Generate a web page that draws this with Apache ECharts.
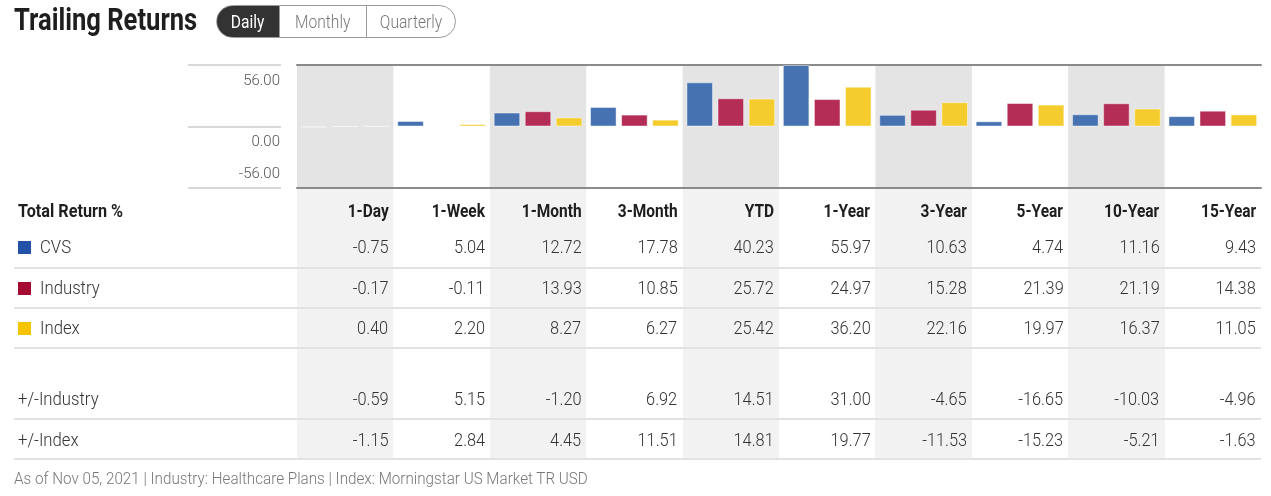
<!DOCTYPE html>
<html>
<head>
<meta charset="utf-8">
<script src="https://cdn.jsdelivr.net/npm/echarts@6/dist/echarts.min.js"></script>
<style>
  html, body { margin:0; padding:0; background:#fff; }
  #wrap { position:relative; width:1271px; height:496px; overflow:hidden; font-family:"Roboto",sans-serif; }
  #chart { position:absolute; left:0; top:0; width:1271px; height:496px; }
  #overlay { position:absolute; left:0; top:0; width:1271px; height:496px; pointer-events:none; }
  .abs { position:absolute; white-space:nowrap; }
  .sx { display:inline-block; }
  .title { left:14px; top:1px; font-size:31px; font-weight:bold; color:#1e1e1e; line-height:38px; }
  .pill { left:216px; top:5px; width:240px; height:33px; border:1px solid #9a9a9a; border-radius:17px; overflow:hidden; box-sizing:border-box; }
  .seg { position:absolute; top:0; height:31px; line-height:31px; text-align:center; font-size:19px; color:#777; box-sizing:border-box; font-weight:300; }
  .cell { line-height:40px; height:40px; font-size:19px; color:#333; font-weight:300; }
  .hdr { font-weight:bold; font-size:18px; color:#1e1e1e; }
  .band { background:#f2f2f2; }
  .sep { height:2px; background:#e2e2e2; }
  .sq { width:13px; height:13px; }
  .foot { left:14px; font-size:17px; color:#777; line-height:24px; font-weight:300; }
</style>
</head>
<body>
<div id="wrap">
  <div id="chart"></div>
  <div id="overlay"></div>
</div>
<script>
// ---- data ----
const periods = ['1-Day','1-Week','1-Month','3-Month','YTD','1-Year','3-Year','5-Year','10-Year','15-Year'];
const cvs      = [-0.75, 5.04, 12.72, 17.78, 40.23, 55.97, 10.63, 4.74, 11.16, 9.43];
const industry = [-0.17, -0.11, 13.93, 10.85, 25.72, 24.97, 15.28, 21.39, 21.19, 14.38];
const indexRet = [0.40, 2.20, 8.27, 6.27, 25.42, 36.20, 22.16, 19.97, 16.37, 11.05];
const plusMinusIndustry = [-0.59, 5.15, -1.20, 6.92, 14.51, 31.00, -4.65, -16.65, -10.03, -4.96];
const plusMinusIndex    = [-1.15, 2.84, 4.45, 11.51, 14.81, 19.77, -11.53, -15.23, -5.21, -1.63];
const yTickLabels = ['-56.00', '0.00', '56.00'];
const seriesNames = ['CVS', 'Industry', 'Index'];
const toggles = ['Daily', 'Monthly', 'Quarterly'];
const footnote = 'As of Nov 05, 2021 | Industry: Healthcare Plans | Index: Morningstar US Market TR USD';
const tableTitle = 'Total Return %';

// ---- styles ----
const barColors = ['#4672b1', '#b32d57', '#f5cc2e'];
const legendColors = ['#2152a8', '#a50a32', '#f5c400'];
const GRID_L = 297, GRID_R = 1261, GRID_T = 65, GRID_B = 188;
const SX = 0.86; // horizontal condensing of text

const chart = echarts.init(document.getElementById('chart'), null, { renderer: 'canvas' });
const axisLineStyle = { show: true, onZero: false, lineStyle: { color: '#8a8a8a', width: 2 } };
const labelFont = { color: '#555', fontSize: 15, fontFamily: 'Roboto', fontWeight: 300 };
chart.setOption({
  animation: false,
  grid: { left: GRID_L, right: 1271 - GRID_R, top: GRID_T, bottom: 496 - GRID_B, containLabel: false },
  xAxis: [
    { type: 'category', data: periods, position: 'bottom', boundaryGap: true,
      axisLine: axisLineStyle, axisTick: { show: false }, axisLabel: { show: false },
      splitArea: { show: true, areaStyle: { color: ['#e4e4e4', 'rgba(255,255,255,0)'] } },
      splitLine: { show: false } },
    { type: 'category', data: periods, position: 'top', boundaryGap: true,
      axisLine: axisLineStyle, axisTick: { show: false }, axisLabel: { show: false } }
  ],
  yAxis: {
    type: 'value', min: -56, max: 56, interval: 56, offset: 16,
    axisLine: { show: false },
    axisTick: { show: true, inside: false, length: 93, lineStyle: { color: '#d8d8d8', width: 2 } },
    splitLine: { show: false },
    axisLabel: Object.assign({
      margin: 1,
      formatter: function (v, i) {
        const key = i === 0 ? 'b' : (i === 1 ? 'z' : 't');
        return '{' + key + '|' + yTickLabels[i] + '}';
      },
      rich: {
        t: Object.assign({ padding: [32, 0, 0, 0] }, labelFont),
        z: Object.assign({ padding: [32, 0, 0, 0] }, labelFont),
        b: Object.assign({ padding: [0, 0, 28, 0] }, labelFont)
      }
    }, labelFont)
  },
  series: [cvs, industry, indexRet].map((d, k) => ({
    name: seriesNames[k], type: 'bar', data: d,
    barGap: '17%', barCategoryGap: '8%',
    itemStyle: { color: barColors[k], borderColor: 'rgba(255,255,255,0.45)', borderWidth: 1 }
  }))
});

// ---- HTML header & table ----
const ov = document.getElementById('overlay');
function add(cls, style, text, origin, scale) {
  const d = document.createElement('div');
  d.className = 'abs ' + cls;
  Object.assign(d.style, style);
  if (text !== undefined) {
    const s = document.createElement('span');
    s.className = 'sx';
    s.textContent = text;
    s.style.transform = 'scaleX(' + (scale || SX) + ')';
    s.style.transformOrigin = origin || 'left center';
    d.appendChild(s);
  }
  ov.appendChild(d);
  return d;
}
add('title', {}, 'Trailing Returns', 'left center', 0.825);
const pill = add('pill', {});
const segX = [0, 62, 149, 238];
toggles.forEach((t, i) => {
  const s = document.createElement('div');
  s.className = 'seg';
  s.style.left = segX[i] + 'px';
  s.style.width = (segX[i + 1] - segX[i]) + 'px';
  if (i === 0) { s.style.background = '#333'; s.style.color = '#fff'; s.style.fontWeight = 400; }
  if (i > 0) s.style.borderLeft = '1px solid #9a9a9a';
  const sp = document.createElement('span');
  sp.className = 'sx';
  sp.textContent = t;
  sp.style.transform = 'scaleX(0.82)';
  sp.style.transformOrigin = 'center center';
  s.appendChild(sp);
  pill.appendChild(s);
});

const colW = (GRID_R - GRID_L) / periods.length;
const TABLE_TOP = 189, TABLE_BOT = 460;
periods.forEach((p, i) => {
  if (i % 2 === 0) add('band', { left: (GRID_L + i * colW) + 'px', top: TABLE_TOP + 'px', width: colW + 'px', height: (TABLE_BOT - TABLE_TOP) + 'px' });
});
[267, 307, 347, 418, 458].forEach(y => add('sep', { left: '14px', top: y + 'px', width: (GRID_R - 14) + 'px' }));

function rowText(centerY, label, values, opts) {
  opts = opts || {};
  const top = (centerY - 20) + 'px';
  const hc = opts.hdr ? ' hdr' : '';
  add('cell' + hc, { left: (opts.labelX || 18) + 'px', top }, label, 'left center', opts.hdr ? 0.9 : 0.88);
  values.forEach((v, i) => {
    const right = 1271 - (GRID_L + (i + 1) * colW - 5);
    add('cell' + hc, { right: right + 'px', top, textAlign: 'right' }, typeof v === 'number' ? v.toFixed(2) : v, 'right center', SX);
  });
  if (opts.color) add('sq', { left: '18px', top: (centerY - 6) + 'px', background: opts.color });
}
rowText(211, tableTitle, periods, { hdr: true });
rowText(247, seriesNames[0], cvs, { labelX: 40, color: legendColors[0] });
rowText(288, seriesNames[1], industry, { labelX: 40, color: legendColors[1] });
rowText(328, seriesNames[2], indexRet, { labelX: 40, color: legendColors[2] });
rowText(399, '+/-Industry', plusMinusIndustry);
rowText(440, '+/-Index', plusMinusIndex);
add('foot', { top: '466px' }, footnote, 'left center', 0.895);
</script>
</body>
</html>
